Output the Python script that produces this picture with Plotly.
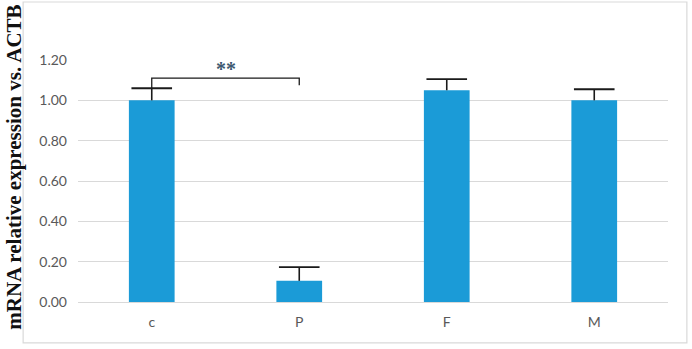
import plotly.graph_objects as go

categories = ["c", "P", "F", "M"]
values = [1.00, 0.105, 1.05, 1.00]
errors = [0.06, 0.068, 0.055, 0.055]
tick_vals = [0.0, 0.2, 0.4, 0.6, 0.8, 1.0, 1.2]
tick_text = ["0.00", "0.20", "0.40", "0.60", "0.80", "1.00", "1.20"]

# significance bracket between c and P
bracket_left = 0
bracket_right = 1
bracket_top = 1.11
bracket_left_end = 1.06
bracket_right_end = 1.075
sig_label = "**"
sig_y = 1.155

bar_color = "#1B9BD7"
grid_color = "#D9D9D9"
text_gray = "#595959"

fig = go.Figure()
fig.add_trace(go.Bar(
    x=categories, y=values,
    width=0.31,
    marker=dict(color=bar_color, line=dict(width=0)),
    showlegend=False, hoverinfo="skip",
))
# upper-only error bars: cap marker at top, stem going down to the bar
fig.add_trace(go.Scatter(
    x=categories, y=[v + e for v, e in zip(values, errors)],
    mode="markers",
    marker=dict(symbol="line-ew-open", size=29, color="#1a1a1a",
                line=dict(color="#1a1a1a", width=1.8)),
    error_y=dict(type="data", symmetric=False, array=[0]*len(errors),
                 arrayminus=errors, color="#1a1a1a", thickness=1.6, width=0),
    showlegend=False,
))

fig.add_shape(type="path",
              path=f"M {bracket_left},{bracket_left_end} L {bracket_left},{bracket_top} "
                   f"L {bracket_right},{bracket_top} L {bracket_right},{bracket_right_end}",
              xref="x", yref="y", line=dict(color="#1a1a1a", width=1.3))
fig.add_annotation(x=(bracket_left + bracket_right) / 2, y=sig_y, xref="x", yref="y",
                   text=f"<b>{sig_label}</b>", showarrow=False,
                   font=dict(family="Liberation Serif", size=20, color="#3d5870"))

# outer frame
fig.add_shape(type="rect", xref="paper", yref="paper",
              x0=-0.093, x1=1.032, y0=-0.169, y1=1.2397,
              line=dict(color=grid_color, width=1.2), fillcolor="rgba(0,0,0,0)",
              layer="below")

fig.add_annotation(xref="paper", yref="paper", x=-0.108, y=0.556,
                   text="<b>mRNA relative expression vs. ACTB</b>", textangle=-90,
                   showarrow=False, xanchor="center", yanchor="middle",
                   font=dict(family="Liberation Serif", size=21, color="#111111"))

fig.update_layout(
    width=692, height=349,
    margin=dict(l=78, r=24, t=60, b=47),
    paper_bgcolor="white", plot_bgcolor="white",
    font=dict(family="Lato", size=14, color=text_gray),
)
fig.update_xaxes(showgrid=False, showline=False, ticks="", zeroline=False,
                 tickfont=dict(family="Lato", size=14, color=text_gray),
                 ticklabelstandoff=10)
fig.update_yaxes(range=[0, 1.2], tickvals=tick_vals, ticktext=tick_text,
                 showgrid=True, gridcolor=grid_color, gridwidth=1,
                 zeroline=True, zerolinecolor=grid_color, zerolinewidth=1,
                 showline=False, ticks="",
                 tickfont=dict(family="Lato", size=14, color=text_gray),
                 ticklabelstandoff=10)

fig.write_html("out.html", config={"displayModeBar": False},
               post_script="document.body.style.margin='0';")
